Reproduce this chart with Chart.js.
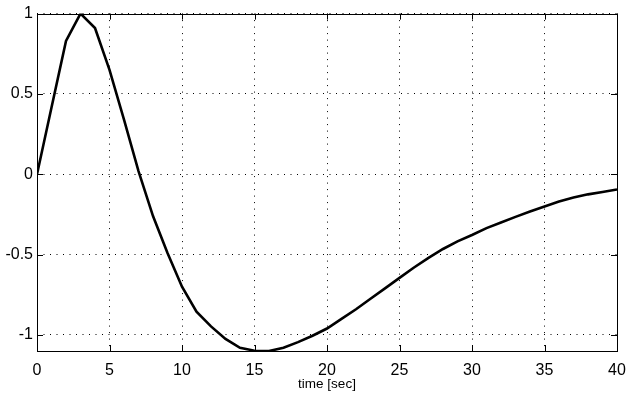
<!DOCTYPE html>
<html>
<head>
<meta charset="utf-8">
<script src="https://cdn.jsdelivr.net/npm/chart.js@4"></script>
<style>
  html, body { margin: 0; padding: 0; background: #fff; }
  #wrap { width: 629px; height: 401px; }
</style>
</head>
<body>
<div id="wrap"><canvas id="respChart" width="629" height="401"></canvas></div>
<script>
// time axis (seconds) and response values
const timeSec = [0, 1, 2, 3, 4, 5, 6, 7, 8, 9, 10, 11, 12, 13, 14, 15, 16, 17, 18, 19, 20,
  21, 22, 23, 24, 25, 26, 27, 28, 29, 30, 31, 32, 33, 34, 35, 36, 37, 38, 39, 40];
const response = [0, 0.415, 0.83, 1.0, 0.91, 0.65, 0.34, 0.02, -0.26, -0.49, -0.7, -0.855, -0.947,
  -1.025, -1.08, -1.098, -1.1, -1.08, -1.045, -1.005, -0.96, -0.9, -0.84, -0.775, -0.71,
  -0.645, -0.58, -0.52, -0.465, -0.418, -0.378, -0.335, -0.3, -0.265, -0.232, -0.2,
  -0.17, -0.145, -0.125, -0.11, -0.095];
const xTicks = [0, 5, 10, 15, 20, 25, 30, 35, 40];
const yTicks = [-1, -0.5, 0, 0.5, 1];

const ctx = document.getElementById("respChart").getContext("2d");

// matlab style box with short ticks pointing inward
const boxPlugin = {
  id: "boxPlugin",
  afterDraw(chart) {
    const { ctx, chartArea: a, scales } = chart;
    const len = 6;
    ctx.save();
    ctx.strokeStyle = "#000";
    ctx.lineWidth = 1;
    ctx.beginPath();
    xTicks.forEach((v) => {
      const x = Math.round(scales.x.getPixelForValue(v)) + 0.5;
      ctx.moveTo(x, a.bottom);
      ctx.lineTo(x, a.bottom - len);
      ctx.moveTo(x, a.top);
      ctx.lineTo(x, a.top + len);
    });
    yTicks.forEach((v) => {
      const y = Math.round(scales.y.getPixelForValue(v)) + 0.5;
      ctx.moveTo(a.left, y);
      ctx.lineTo(a.left + len, y);
      ctx.moveTo(a.right, y);
      ctx.lineTo(a.right - len, y);
    });
    ctx.stroke();
    ctx.strokeRect(Math.round(a.left) + 0.5, Math.round(a.top) + 0.5,
      Math.round(a.right - a.left), Math.round(a.bottom - a.top));
    ctx.restore();
  },
};

new Chart(ctx, {
  type: "line",
  data: {
    labels: timeSec,
    datasets: [
      {
        data: response,
        borderColor: "#000",
        borderWidth: 2.6,
        tension: 0,
        pointRadius: 0,
        fill: false,
      },
    ],
  },
  options: {
    responsive: false,
    animation: false,
    events: [],
    layout: {
      padding: { top: 11, right: 12, left: 0, bottom: 9 },
    },
    plugins: {
      legend: { display: false },
      tooltip: { enabled: false },
    },
    scales: {
      x: {
        type: "linear",
        min: 0,
        max: 40,
        afterBuildTicks: (s) => { s.ticks = xTicks.map((v) => ({ value: v })); },
        afterFit: (s) => {
          s.height = 41;
          s.paddingLeft = 0;
          s.paddingRight = 0;
        },
        ticks: {
          color: "#000",
          padding: 10,
          maxRotation: 0,
          callback: (v) => String(v),
          font: { family: "Liberation Sans, Arial, sans-serif", size: 16 },
        },
        title: {
          display: true,
          text: "time [sec]",
          color: "#000",
          padding: { top: 0, bottom: 0 },
          font: { family: "Liberation Sans, Arial, sans-serif", size: 13.5 },
        },
        grid: { color: "#000", lineWidth: 1, drawTicks: false },
        border: { display: false, dash: [1, 5.5] },
      },
      y: {
        min: -1.1,
        max: 1,
        afterBuildTicks: (s) => { s.ticks = yTicks.map((v) => ({ value: v })); },
        afterFit: (s) => { s.width = 37; },
        ticks: {
          color: "#000",
          padding: 4,
          callback: (v) => String(v),
          font: { family: "Liberation Sans, Arial, sans-serif", size: 16 },
        },
        grid: { color: "#000", lineWidth: 1, drawTicks: false },
        border: { display: false, dash: [1, 5.5] },
      },
    },
  },
  plugins: [boxPlugin],
});
</script>
</body>
</html>
